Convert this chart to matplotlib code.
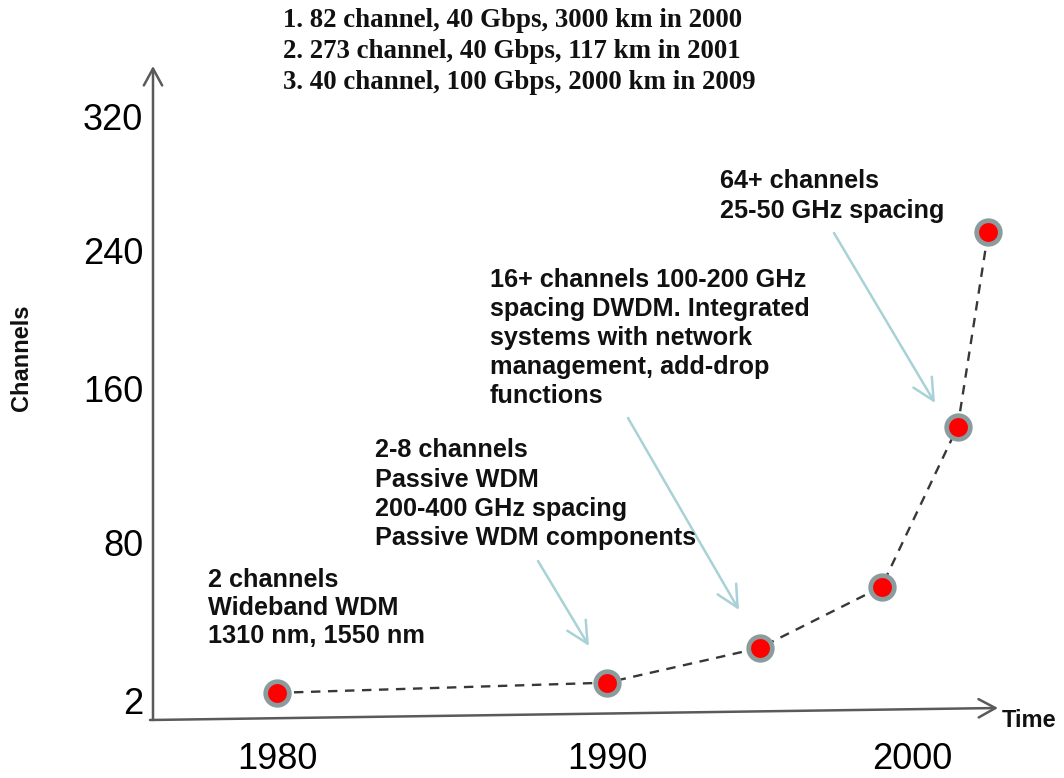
import numpy as np
import matplotlib
matplotlib.use("Agg")
import matplotlib.pyplot as plt

W, H = 1064, 778

# --- data -------------------------------------------------------------
years = [1980, 1990, 1995, 1999, 2001.5, 2002.5]
channels = [6, 11, 28, 58, 140, 251]

x_ticks = [1980, 1990, 2000]
y_ticks = [2, 80, 160, 240, 320]

records = [
    "1. 82 channel, 40 Gbps, 3000 km in 2000",
    "2. 273 channel, 40 Gbps, 117 km in 2001",
    "3. 40 channel, 100 Gbps, 2000 km in 2009",
]

stage_notes = [
    ["2 channels", "Wideband WDM", "1310 nm, 1550 nm"],
    ["2-8 channels", "Passive WDM", "200-400 GHz spacing", "Passive WDM components"],
    ["16+ channels 100-200 GHz", "spacing DWDM. Integrated",
     "systems with network", "management, add-drop", "functions"],
    ["64+ channels", "25-50 GHz spacing"],
]

# --- layout -----------------------------------------------------------
# The hand-drawn axes are not evenly spaced, so each axis uses a
# piecewise-linear scale anchored at its tick labels (in pixels).
x_knots_px = [277, 607, 912]
y_knots_px = [77, 236, 390, 528, 661]   # measured upward from the bottom

note_pos = [(208, 587), (375, 457), (490, 287), (720, 188)]  # left, first baseline
note_step = [28, 29.5, 29, 30]
callouts = [((538, 561), (589, 646)),
            ((628, 418), (739, 610)),
            ((834, 233), (935, 403))]


def piecewise(src, dst):
    src = np.asarray(src, float)
    dst = np.asarray(dst, float)
    s0 = (dst[1] - dst[0]) / (src[1] - src[0])
    s1 = (dst[-1] - dst[-2]) / (src[-1] - src[-2])

    def f(v):
        v = np.asarray(v, float)
        out = np.interp(v, src, dst)
        out = np.where(v < src[0], dst[0] + (v - src[0]) * s0, out)
        out = np.where(v > src[-1], dst[-1] + (v - src[-1]) * s1, out)
        return out
    return f


x_fwd, x_inv = piecewise(x_ticks, x_knots_px), piecewise(x_knots_px, x_ticks)
y_fwd, y_inv = piecewise(y_ticks, y_knots_px), piecewise(y_knots_px, y_ticks)

sans = "Liberation Sans"
serif = "Liberation Serif"

fig = plt.figure(figsize=(W / 100, H / 100), dpi=100)
fig.patch.set_facecolor("white")

left, right, bottom, top = 153, 1000, 60, 703
ax = fig.add_axes([left / W, bottom / H, (right - left) / W, (top - bottom) / H])
ax.set_xscale("function", functions=(x_fwd, x_inv))
ax.set_yscale("function", functions=(y_fwd, y_inv))
ax.set_xlim(float(x_inv(left)), float(x_inv(right)))
ax.set_ylim(float(y_inv(bottom)), float(y_inv(top)))
ax.patch.set_alpha(0)
for s in ax.spines.values():
    s.set_visible(False)

ax.set_xticks(x_ticks)
ax.set_xticklabels([str(t) for t in x_ticks])
ax.set_yticks(y_ticks)
ax.set_yticklabels([str(t) for t in y_ticks])
ax.xaxis.set_minor_locator(plt.NullLocator())
ax.yaxis.set_minor_locator(plt.NullLocator())
ax.tick_params(axis="x", length=0, pad=17, labelsize=26)
ax.tick_params(axis="y", length=0, pad=7, labelsize=26)
for lab in ax.get_xticklabels() + ax.get_yticklabels():
    lab.set_fontfamily(sans)

# growth curve
ax.plot(years, channels, color="#383838", lw=1.7, ls=(0, (4, 3.2)),
        zorder=2, clip_on=False)
ax.plot(years, channels, ls="none", marker="o", ms=17, mfc="#ff0000",
        mec="#8a9c9e", mew=3.4, zorder=3, clip_on=False)

# axis arrows
axis_arrow = dict(arrowstyle="->,head_length=0.55,head_width=0.3",
                  color="#5a5a5a", lw=1.8, mutation_scale=22,
                  shrinkA=0, shrinkB=0)
ax.annotate("", xy=(153, H - 66), xytext=(153, H - 720),
            xycoords="figure pixels", textcoords="figure pixels",
            arrowprops=axis_arrow)
ax.annotate("", xy=(998, H - 708), xytext=(150, H - 720),
            xycoords="figure pixels", textcoords="figure pixels",
            arrowprops=axis_arrow)

# callout arrows
callout_arrow = dict(arrowstyle="->,head_length=0.7,head_width=0.35",
                     color="#a8d2d7", lw=1.8, mutation_scale=22,
                     shrinkA=0, shrinkB=0)
for (x0, y0), (x1, y1) in callouts:
    ax.annotate("", xy=(x1, H - y1), xytext=(x0, H - y0),
                xycoords="figure pixels", textcoords="figure pixels",
                arrowprops=callout_arrow)

# stage descriptions
for lines, (lx, ly), step in zip(stage_notes, note_pos, note_step):
    for i, line in enumerate(lines):
        fig.text(lx / W, 1 - (ly + i * step) / H, line, family=sans,
                 weight="bold", size=18.2, ha="left", va="baseline",
                 color="#111111")

# record list
for i, line in enumerate(records):
    fig.text(283 / W, 1 - (27 + i * 31) / H, line, family=serif,
             weight="bold", size=19.4, ha="left", va="baseline",
             color="#111111")

# axis titles
fig.text(22 / W, 1 - 358 / H, "Channels", family=sans, weight="bold",
         size=17, rotation=90, ha="center", va="center", color="#111111")
fig.text(1002 / W, 1 - 727 / H, "Time", family=sans, weight="bold",
         size=17, ha="left", va="baseline", color="#111111")

fig.savefig("out.png", dpi=100, facecolor="white")
